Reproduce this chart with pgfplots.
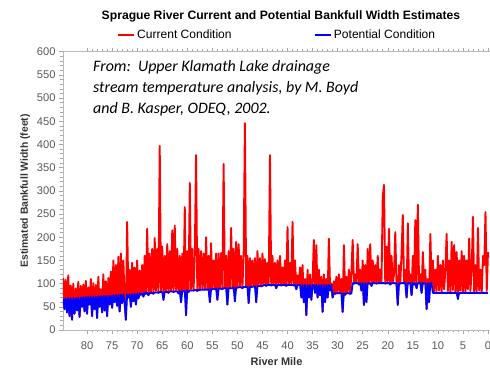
\documentclass[border=0pt]{standalone}
\usepackage{pgfplots}
\pgfplotsset{compat=1.18}
\usepackage{pgfplotstable}
\usepackage{fontspec}
\setmainfont{Liberation Sans}
\newfontfamily\calibri{Carlito}

\pgfplotstableread{
x c b
84.75 112 68
84.5 45 45
84.25 108 68
84 38 38
83.75 118 69
83.5 30 30
83.25 96 69
83 22 22
82.75 100 69
82.5 35 35
82.25 90 69
82 42 42
81.75 104 70
81.5 28 28
81.25 95 70
81 50 50
80.75 98 71
80.5 40 40
80.25 106 71
80 35 35
79.75 92 72
79.5 55 55
79.25 110 72
79 30 30
78.75 101 72
78.5 45 45
78.25 97 72
78 26 26
77.75 115 73
77.5 50 50
77.25 88 73
77 38 38
76.75 120 74
76.5 42 42
76.25 105 74
76 30 30
75.75 112 74
75.5 55 55
75.25 126 74
75 48 48
74.75 150 75
74.5 60 60
74.25 140 75
74 52 52
73.75 158 76
73.5 40 40
73.25 165 76
73 58 58
72.75 150 77
72.5 60 60
72.25 22 22
72 233 77
71.75 70 70
71.5 130 77
71.25 50 50
71 145 77
70.75 62 62
70.5 135 78
70.25 55 55
70 150 78
69.75 68 68
69.5 128 79
69.25 76 76
69 140 79
68.75 72 72
68.5 160 80
68.25 78 78
68 218 80
67.75 75 75
67.5 165 80
67.25 82 80
67 175 80
66.75 78 78
66.5 198 81
66.25 84 81
66 175 81
65.75 80 80
65.5 397 82
65.25 85 82
65 180 82
64.75 65 65
64.5 160 82
64.25 83 82
64 185 82
63.75 80 80
63.5 170 83
63.25 85 83
63 215 83
62.75 82 82
62.5 225 83
62.25 86 83
62 175 83
61.75 79 79
61.5 160 84
61.25 60 60
61 165 84
60.75 84 84
60.5 265 85
60.25 32 32
60 170 85
59.75 82 82
59.5 317 85
59.25 88 85
59 175 85
58.75 85 85
58.5 160 86
58.25 377 86
58 84 84
57.75 175 87
57.5 86 86
57.25 170 87
57 90 87
56.75 165 87
56.5 87 87
56.25 200 87
56 88 87
55.75 160 88
55.5 60 60
55.25 187 88
55 89 88
54.75 150 89
54.5 88 88
54.25 165 89
54 65 65
53.75 165 89
53.5 90 89
53.25 166 89
53 88 88
52.75 358 90
52.5 91 90
52.25 160 90
52 55 55
51.75 170 90
51.5 92 90
51.25 220 90
51 90 90
50.75 175 91
50.5 62 62
50.25 190 91
50 92 91
49.75 185 92
49.5 93 92
49.25 160 92
49 90 90
48.75 165 93
48.5 446 93
48.25 94 93
48 160 93
47.75 58 58
47.5 155 93
47.25 93 93
47 150 93
46.75 95 94
46.5 155 94
46.25 60 60
46 170 94
45.75 96 95
45.5 155 95
45.25 94 94
45 165 95
44.75 98 97
44.5 153 97
44.25 95 95
44 145 97
43.75 97 97
43.5 377 97
43.25 96 96
43 160 97
42.75 98 97
42.5 145 97
42.25 90 90
42 150 97
41.75 99 97
41.5 160 97
41.25 96 96
41 135 97
40.75 98 97
40.5 150 97
40.25 95 95
40 222 97
39.75 97 97
39.5 145 97
39.25 99 97
39 233 97
38.75 96 96
38.5 150 97
38.25 88 88
38 118 97
37.75 98 97
37.5 135 97
37.25 70 70
37 140 97
36.75 60 60
36.5 110 97
36.25 32 32
36 130 97
35.75 70 70
35.5 120 97
35.25 65 65
35 104 97
34.75 194 97
34.5 80 80
34.25 183 97
34 70 70
33.75 130 97
33.5 75 75
33.25 115 97
33 39 39
32.75 120 97
32.5 60 60
32.25 110 97
32 70 70
31.75 197 97
31.5 85 85
31.25 100 97
31 70 70
30.75 105 79
30.5 78 78
30.25 115 79
30 80 79
29.75 120 79
29.5 79 79
29.25 110 79
29 39 39
28.75 183 79
28.5 76 76
28.25 115 79
28 80 79
27.75 130 79
27.5 78 78
27.25 125 79
27 194 101
26.75 100 100
26.5 120 101
26.25 102 101
26 185 101
25.75 98 98
25.5 130 101
25.25 85 85
25 150 101
24.75 54 54
24.5 140 101
24.25 60 60
24 175 101
23.75 100 100
23.5 185 101
23.25 95 95
23 150 101
22.75 102 101
22.5 140 101
22.25 100 100
22 160 101
21.75 103 101
21.5 130 101
21.25 101 101
21 287 101
20.75 313 101
20.5 100 100
20.25 180 101
20 102 101
19.75 218 101
19.5 98 98
19.25 160 101
19 101 101
18.75 120 101
18.5 211 101
18.25 100 100
18 54 54
17.75 140 101
17.5 100 100
17.25 165 101
17 248 101
16.75 102 101
16.5 130 101
16.25 70 70
16 230 101
15.75 101 101
15.5 120 101
15.25 75 75
15 160 101
14.75 98 98
14.5 237 101
14.25 90 90
14 270 101
13.75 101 101
13.5 120 101
13.25 80 80
13 168 101
12.75 100 100
12.5 130 101
12.25 45 45
12 110 101
11.75 60 60
11.5 207 101
11.25 100 100
11 150 80
10.75 82 80
10.5 130 80
10.25 84 80
10 160 80
9.75 85 80
9.5 140 80
9.25 83 80
9 150 80
8.75 88 80
8.5 130 80
8.25 207 80
8 84 80
7.75 150 80
7.5 82 80
7.25 190 80
7 86 80
6.75 183 80
6.5 80 80
6.25 168 80
6 67 67
5.75 150 80
5.5 85 80
5.25 170 80
5 82 80
4.75 160 80
4.5 81 80
4.25 150 80
4 88 80
3.75 197 80
3.5 84 80
3.25 130 80
3 244 80
2.75 82 80
2.5 140 80
2.25 83 80
2 220 80
1.75 85 80
1.5 130 80
1.25 81 80
1 160 80
0.75 140 80
0.5 254 80
0.25 84 80
0 168 80
}\data

\begin{document}
\begin{tikzpicture}
\begin{axis}[
  scale only axis, width=427bp, height=278.3bp,
  x dir=reverse, xmin=-0.4, xmax=84.8, ymin=0, ymax=600,
  xtick={0,5,...,80}, ytick={0,50,...,600},
  minor x tick num=4, minor y tick num=4,
  tick align=outside, major tick length=4bp, minor tick length=2.5bp,
  tick style={gray!70, line width=0.5bp},
  axis line style={gray!55, line width=0.6bp},
  ticklabel style={font=\fontsize{11.2}{13}\selectfont, text=black!65},
  xticklabel style={yshift=-4bp},
  /pgf/number format/assume math mode=true,
  xlabel={River Mile}, ylabel={Estimated Bankfull Width (feet)},
  xlabel style={font=\bfseries\fontsize{11}{13}\selectfont, at={(axis description cs:0.5,0)}, anchor=base, yshift=-35.5bp, text=black!80},
  ylabel style={font=\bfseries\fontsize{10.4}{12}\selectfont, at={(axis description cs:-0.0820,0.5)}, anchor=base, text=black!80},
  title={Sprague River Current and Potential Bankfull Width Estimates},
  title style={font=\bfseries\fontsize{12.2}{14}\selectfont, at={(axis description cs:0.5,1)}, anchor=base, yshift=26bp, xshift=4.5bp},
  legend columns=2,
  legend style={at={(axis description cs:0.1258,1)}, anchor=west, yshift=16.7bp, draw=none, fill=none, inner sep=0pt, font=\fontsize{12.1}{14}\selectfont, /tikz/every even column/.append style={column sep=80bp}},
  legend image code/.code={\draw[#1, line width=1.8pt] (0bp,0bp) -- (16.5bp,0bp);},
]
\addplot[red, line width=1.9pt, line join=round, no marks] table[x=x, y=c] {\data};
\addplot[blue, line width=1.8pt, line join=round, no marks] table[x=x, y=b] {\data};
\legend{Current Condition, Potential Condition}
\node[anchor=north west, inner sep=0pt, align=left, font=\calibri\itshape\fontsize{16}{21.3}\selectfont] at ([xshift=30bp, yshift=-8.5bp]axis description cs:0,1) {From:\ \ Upper Klamath Lake drainage\\stream temperature analysis, by M. Boyd\\and B. Kasper, ODEQ, 2002.};
\coordinate (ll) at (axis description cs:0,0);
\coordinate (ur) at (axis description cs:1,1);
\end{axis}
\pgfresetboundingbox
\path[use as bounding box] ([xshift=-63bp, yshift=-38bp]ll) rectangle ([yshift=51.7bp]ur);
\end{tikzpicture}
\end{document}
